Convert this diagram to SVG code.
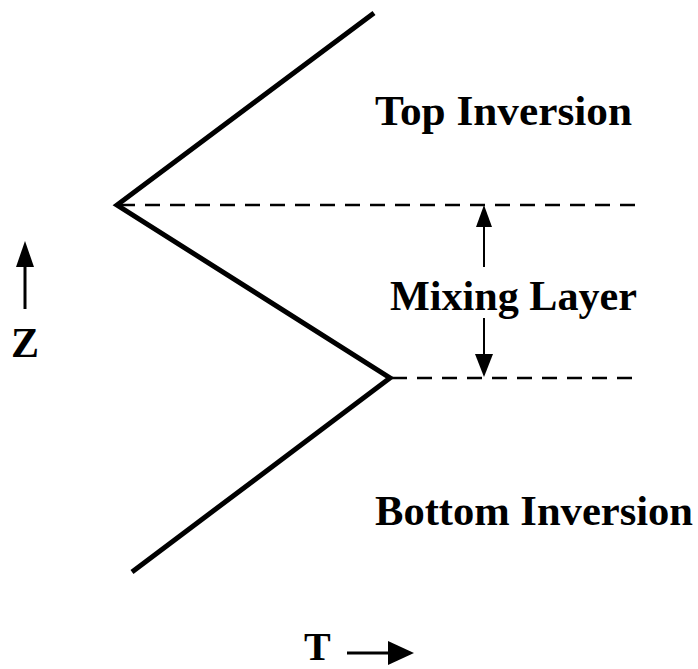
<svg xmlns="http://www.w3.org/2000/svg" width="698" height="669" viewBox="0 0 698 669">
<style>
.lbl{font-family:"Liberation Serif","Times New Roman",serif;font-weight:bold;fill:#000}
.dash{stroke:#000;stroke-width:2.5;stroke-dasharray:15 10;fill:none}
.head{fill:#000}
</style>
<rect width="698" height="669" fill="#fff"/>
<g id="profile">
<polyline points="374,13 117,205 390,378 132,572" fill="none" stroke="#000" stroke-width="5" stroke-linejoin="miter"/>
</g>
<g id="connectors">
<line class="dash" x1="120" y1="205" x2="636" y2="205"/>
<line class="dash" x1="392" y1="378" x2="636" y2="378"/>
<line x1="484" y1="267" x2="484" y2="222" stroke="#000" stroke-width="2"/>
<polygon class="head" points="484,205 476,227 492,227"/>
<line x1="484" y1="318" x2="484" y2="358" stroke="#000" stroke-width="2"/>
<polygon class="head" points="484,377 475,354 493,354"/>
<line x1="25" y1="309" x2="25" y2="262" stroke="#000" stroke-width="3"/>
<polygon class="head" points="25,241 16,267 34,267"/>
<line x1="347" y1="653" x2="392" y2="653" stroke="#000" stroke-width="3"/>
<polygon class="head" points="414,653 388,641 388,665"/>
</g>
<g id="top-inversion"><text class="lbl" x="375" y="125" font-size="42" textLength="257" lengthAdjust="spacingAndGlyphs">Top Inversion</text></g>
<g id="mixing-layer"><text class="lbl" x="390" y="310" font-size="42" textLength="247" lengthAdjust="spacingAndGlyphs">Mixing Layer</text></g>
<g id="bottom-inversion"><text class="lbl" x="375" y="525" font-size="42" textLength="318" lengthAdjust="spacingAndGlyphs">Bottom Inversion</text></g>
<g id="z-label"><text class="lbl" x="11" y="357" font-size="42">Z</text></g>
<g id="t-label"><text class="lbl" x="304" y="660" font-size="40">T</text></g>
</svg>
